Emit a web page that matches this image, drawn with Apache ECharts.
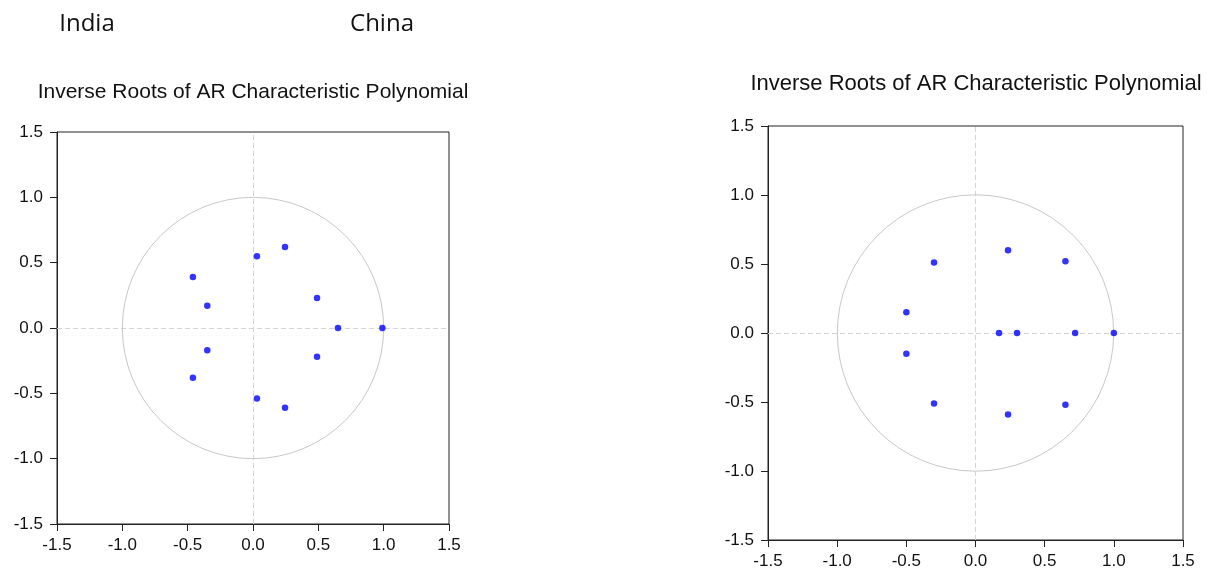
<!DOCTYPE html>
<html>
<head>
<meta charset="utf-8">
<title>Inverse Roots of AR Characteristic Polynomial</title>
<script src="https://cdn.jsdelivr.net/npm/echarts@6/dist/echarts.min.js"></script>
<style>
  html, body { margin: 0; padding: 0; background: #fff; }
  #chart { width: 1210px; height: 575px; }
</style>
</head>
<body>
<div id="chart"></div>
<script>
const indiaRe = [-0.46, -0.46, -0.35, -0.35, 0.03, 0.03, 0.245, 0.245, 0.49, 0.49, 0.65, 0.99]
const indiaIm = [0.39, -0.38, 0.17, -0.17, 0.55, -0.54, 0.62, -0.61, 0.23, -0.22, 0.0, 0.0]
const chinaRe = [-0.50, -0.50, -0.30, -0.30, 0.235, 0.235, 0.65, 0.65, 0.17, 0.30, 0.72, 1.0]
const chinaIm = [0.15, -0.15, 0.51, -0.51, 0.60, -0.59, 0.52, -0.52, 0.0, 0.0, 0.0, 0.0]
// unit circle: center x, center y, radius
const unitCircle = [[0, 0, 1]]
const axisTicks = [-1.5, -1.0, -0.5, 0.0, 0.5, 1.0, 1.5]

const zip = (re, im) => re.map((x, i) => [x, im[i]])

const chart = echarts.init(document.getElementById('chart'), null, { renderer: 'canvas' })

const grids = [
  { left: 57, top: 132, width: 392, height: 392 },
  { left: 768, top: 126, width: 415, height: 414 }
]

function valueAxis(idx, isX) {
  return {
    type: 'value',
    gridIndex: idx,
    min: axisTicks[0],
    max: axisTicks[axisTicks.length - 1],
    interval: 0.5,
    axisLine: { show: true, onZero: false, lineStyle: { color: '#222', width: 1 } },
    axisTick: { show: true, inside: false, length: 7, lineStyle: { color: '#222' } },
    axisLabel: {
      show: true,
      margin: isX ? 13 : 14,
      color: '#111',
      fontFamily: 'Liberation Sans, Arial, sans-serif',
      fontSize: 17,
      formatter: v => v.toFixed(1)
    },
    splitLine: { show: false }
  }
}

// unit circle plus the dashed zero lines, drawn under the roots
function circleSeries(idx) {
  return {
    type: 'custom',
    xAxisIndex: idx,
    yAxisIndex: idx,
    silent: true,
    clip: false,
    data: unitCircle,
    renderItem(params, api) {
      const c = api.coord([api.value(0), api.value(1)])
      const s = api.size([api.value(2), api.value(2)])
      return {
        type: 'circle',
        shape: { cx: c[0], cy: c[1], r: (s[0] + s[1]) / 2 },
        style: { fill: 'none', stroke: '#c8c8c8', lineWidth: 1 }
      }
    },
    markLine: {
      silent: true,
      z: 1,
      symbol: ['none', 'none'],
      label: { show: false },
      lineStyle: { type: [5, 3], color: '#d4d4d4', width: 1 },
      data: [{ xAxis: 0 }, { yAxis: 0 }],
      animation: false
    },
    z: 1
  }
}

function rootSeries(idx, re, im) {
  return {
    type: 'scatter',
    xAxisIndex: idx,
    yAxisIndex: idx,
    data: zip(re, im),
    symbol: 'circle',
    symbolSize: 6.5,
    itemStyle: { color: '#0000ff' },
    z: 10
  }
}

const titleFont = 'Liberation Sans, Arial, sans-serif'
const labelStyle = { fontFamily: 'Open Sans', fontWeight: 'normal', fontSize: 24, color: '#111' }
const plotTitleStyle = size => ({ fontFamily: titleFont, fontWeight: 'normal', fontSize: size, color: '#111' })

chart.setOption({
  animation: false,
  title: [
    { text: 'India', left: 87, top: 12, padding: 0, textAlign: 'center', textStyle: labelStyle },
    { text: 'China', left: 382, top: 12, padding: 0, textAlign: 'center', textStyle: labelStyle },
    { text: 'Inverse Roots of AR Characteristic Polynomial', left: 253, top: 82, padding: 0,
      textAlign: 'center', textStyle: plotTitleStyle(21) },
    { text: 'Inverse Roots of AR Characteristic Polynomial', left: 976, top: 73, padding: 0,
      textAlign: 'center', textStyle: plotTitleStyle(22) }
  ],
  grid: grids.map(g => Object.assign({ show: true, borderColor: '#222', borderWidth: 1, backgroundColor: '#fff' }, g)),
  xAxis: [valueAxis(0, true), valueAxis(1, true)],
  yAxis: [valueAxis(0, false), valueAxis(1, false)],
  series: [
    circleSeries(0),
    rootSeries(0, indiaRe, indiaIm),
    circleSeries(1),
    rootSeries(1, chinaRe, chinaIm)
  ]
})
</script>
</body>
</html>
